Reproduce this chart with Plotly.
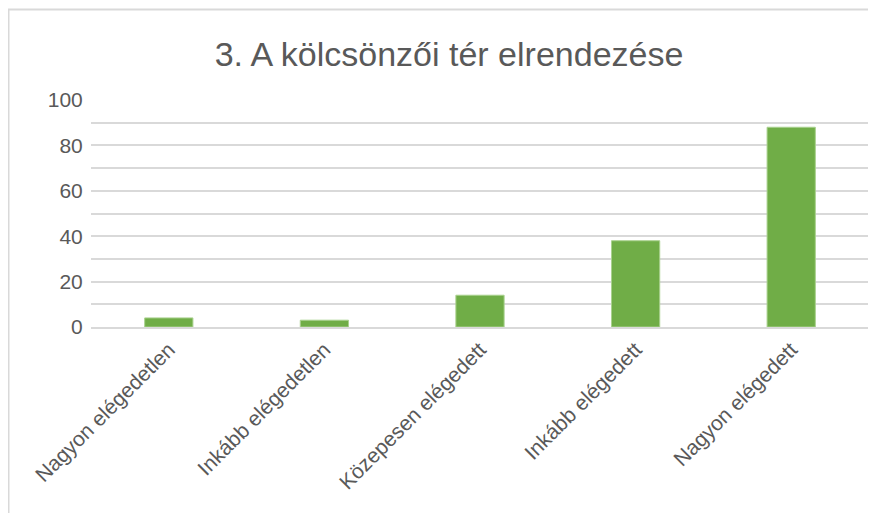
import plotly.graph_objects as go

categories = ["Nagyon elégedetlen", "Inkább elégedetlen", "Közepesen elégedett",
              "Inkább elégedett", "Nagyon elégedett"]
values = [4, 3, 14, 38, 88]
y_ticks = [0, 20, 40, 60, 80, 100]
title_text = "3. A kölcsönzői tér elrendezése"

FONT = "Liberation Sans"
GRAY = "#595959"
GRID = "#D9D9D9"

fig = go.Figure(go.Bar(
    x=categories, y=values,
    marker=dict(color="#70AD47", line=dict(color="#A9D18E", width=1)),
    width=0.31,
))

# page body has an 8px default margin; figure coordinates are offset by 8px
W, H = 868, 505
L, R, T, B = 83, 7, 92, 186
pw, ph = W - L - R, H - T - B

def px2x(px):
    return (px - L) / pw

def px2y(py):
    return (H - B - py) / ph

fig.update_layout(
    width=W, height=H,
    margin=dict(l=L, r=R, t=T, b=B),
    paper_bgcolor="white", plot_bgcolor="white",
    showlegend=False,
    title=dict(text=title_text, x=441 / W, xanchor="center",
               y=1 - 46 / H, yanchor="middle", yref="container",
               font=dict(family=FONT, size=34, color=GRAY)),
    font=dict(family=FONT, color=GRAY),
    xaxis=dict(tickangle=-45, tickfont=dict(family=FONT, size=21, color=GRAY),
               showgrid=False, showline=True, linecolor=GRID, linewidth=2,
               ticks="", fixedrange=True),
    yaxis=dict(range=[0, 100], tickvals=y_ticks,
               tickfont=dict(family=FONT, size=21, color=GRAY),
               showgrid=True, gridcolor=GRID, gridwidth=2,
               zeroline=False, showline=False,
               ticks="outside", ticklen=3, tickcolor="rgba(0,0,0,0)",
               minor=dict(dtick=10, showgrid=True, gridcolor=GRID, gridwidth=2),
               fixedrange=True),
    shapes=[dict(type="rect", xref="paper", yref="paper",
                 x0=px2x(0.5), x1=px2x(890), y0=px2y(530), y1=px2y(1.5),
                 line=dict(color="#D9D9D9", width=2), fillcolor="rgba(0,0,0,0)",
                 layer="below")],
)

fig.write_html("out.html")
